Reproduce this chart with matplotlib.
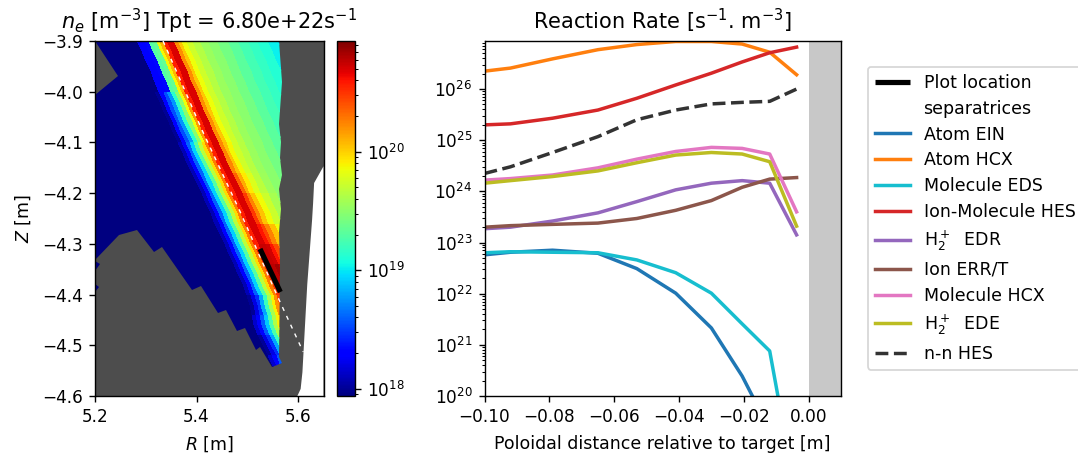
import numpy as np
import matplotlib
matplotlib.use("Agg")
import matplotlib.pyplot as plt
from matplotlib.colors import LogNorm
from matplotlib.path import Path
from matplotlib.patches import PathPatch, Polygon
from matplotlib.ticker import LogLocator, NullFormatter

W, H = 1078, 459
DPI = 125

# ---- right panel data (log10 of reaction rate) ----
dist = [-0.100, -0.092, -0.079, -0.065, -0.053, -0.041, -0.030, -0.0205, -0.012, -0.0037]
atom_ein = [22.76, 22.81, 22.85, 22.79, 22.49, 22.01, 21.33, 20.39, 19.34, 18.5]
atom_hcx = [26.35, 26.41, 26.59, 26.77, 26.87, 26.93, 26.93, 26.88, 26.72, 26.28]
mol_eds = [22.80, 22.82, 22.81, 22.80, 22.66, 22.41, 22.01, 21.41, 20.88, 18.0]
ion_mol_hes = [25.30, 25.32, 25.43, 25.59, 25.82, 26.08, 26.31, 26.53, 26.71, 26.82]
h2p_edr = [23.27, 23.30, 23.42, 23.58, 23.80, 24.03, 24.16, 24.21, 24.16, 23.15]
ion_err = [23.30, 23.33, 23.355, 23.38, 23.47, 23.63, 23.82, 24.08, 24.24, 24.27]
mol_hcx = [24.22, 24.25, 24.32, 24.46, 24.63, 24.78, 24.86, 24.84, 24.73, 23.60]
h2p_ede = [24.16, 24.21, 24.29, 24.40, 24.56, 24.71, 24.76, 24.73, 24.58, 23.32]
nn_hes = [24.35, 24.48, 24.76, 25.07, 25.40, 25.59, 25.71, 25.74, 25.76, 26.00]

# ---- left panel data ----
sep_R = [5.334, 5.368, 5.411, 5.486, 5.561, 5.610]
sep_Z = [-3.900, -3.977, -4.076, -4.237, -4.407, -4.513]
probe_R = [5.525, 5.565]
probe_Z = [-4.310, -4.395]

# centre line of the flux-tube bundle
tube_R = [5.334, 5.368, 5.411, 5.486, 5.559, 5.575, 5.602, 5.628]
tube_Z = [-3.900, -3.977, -4.076, -4.237, -4.401, -4.470, -4.523, -4.578]
# flux-tube edges, horizontal distance from the centre line [m]
tube_edges = [-0.45, -0.059, -0.051, -0.043, -0.036, -0.028, -0.020, -0.012, -0.006, 0.0,
              0.008, 0.022, 0.030, 0.037, 0.047, 0.059, 0.073, 0.089, 0.108, 0.128,
              0.148, 0.168, 0.187, 0.207, 0.227, 0.256]
z_edges = [-3.88, -3.90, -3.92, -3.94, -3.96, -3.98, -4.00, -4.02, -4.04, -4.06, -4.08, -4.10,
           -4.12, -4.14, -4.16, -4.18, -4.20, -4.22, -4.24, -4.26, -4.28, -4.30, -4.32, -4.34,
           -4.36, -4.38, -4.40, -4.42, -4.44, -4.46, -4.48, -4.50, -4.52, -4.54, -4.56]
# log10(ne) per flux tube, at stations along the leg
ne_top = [17.9, 17.9, 18.27, 18.27, 18.33, 19.29, 19.35, 19.88, 20.09, 20.57, 20.69, 20.21,
          20.03, 19.85, 19.73, 19.64, 19.55, 19.49, 19.41, 19.32, 19.23, 19.17, 19.11, 19.02, 18.90]
ne_bend = [17.9, 18.00, 18.27, 18.54, 18.75, 19.14, 19.49, 19.85, 20.18, 20.57, 20.69, 20.21,
           20.03, 19.85, 19.73, 19.64, 19.55, 19.49, 19.41, 19.32, 19.23, 19.17, 19.11, 19.02, 18.90]
ne_upper = [17.9, 18.09, 18.30, 18.60, 18.93, 19.29, 19.67, 19.97, 20.27, 20.57, 20.69, 20.24,
            20.05, 19.87, 19.74, 19.65, 19.55, 19.49, 19.41, 19.32, 19.23, 19.17, 19.11, 19.02, 18.90]
ne_low1 = [17.9, 18.09, 18.30, 18.60, 18.93, 19.29, 19.67, 19.97, 20.27, 20.57, 20.69, 20.35,
           20.12, 19.92, 19.78, 19.67, 19.56, 19.49, 19.41, 19.32, 19.23, 19.17, 19.11, 19.02, 18.90]
ne_low2 = [17.9, 18.09, 18.30, 18.60, 18.93, 19.29, 19.67, 19.97, 20.27, 20.57, 20.69, 20.48,
           20.25, 20.04, 19.86, 19.72, 19.60, 19.49, 19.41, 19.32, 19.23, 19.17, 19.11, 19.02, 18.90]
ne_low3 = [17.9, 18.09, 18.30, 18.60, 18.93, 19.29, 19.67, 19.97, 20.27, 20.57, 20.70, 20.60,
           20.45, 20.25, 20.05, 19.85, 19.70, 19.49, 19.41, 19.32, 19.23, 19.17, 19.11, 19.02, 18.90]
ne_low4 = [17.9, 18.09, 18.30, 18.60, 18.93, 19.29, 19.67, 19.97, 20.27, 20.57, 20.74, 20.72,
           20.60, 20.42, 20.20, 20.00, 19.75, 19.49, 19.41, 19.32, 19.23, 19.17, 19.11, 19.02, 18.90]
ne_target = [17.9, 18.09, 18.30, 18.60, 18.93, 19.29, 19.67, 19.97, 20.27, 20.51, 20.78, 20.84,
             20.78, 20.57, 20.33, 20.03, 19.70, 19.49, 19.41, 19.32, 19.23, 19.17, 19.11, 19.02, 18.90]
ne_tip_a = [17.9, 18.00, 18.20, 18.45, 18.80, 19.20, 19.60, 19.90, 20.20, 20.45, 20.70, 20.70,
            20.60, 20.40, 20.20, 20.00, 19.70, 19.49, 19.41, 19.32, 19.23, 19.17, 19.11, 19.02, 18.90]
ne_tip_b = [17.9, 18.15, 18.32, 18.58, 18.90, 19.25, 19.62, 19.90, 20.20, 20.45, 20.70, 20.70,
            20.60, 20.40, 20.20, 20.00, 19.70, 19.49, 19.41, 19.32, 19.23, 19.17, 19.11, 19.02, 18.90]
station_rows = [6, 5, 3, 2, 3, 2, 2, 3, 2, 2, 2, 2]

# plasma domain outline (R, Z), wall on the right and sawtooth floor on the lower left
domain_R = [5.2000, 5.2447, 5.2000, 5.2000, 5.2473, 5.2822, 5.3165, 5.3328, 5.3919, 5.4085, 5.4413,
            5.4578, 5.4787, 5.4953, 5.5170, 5.5250, 5.5480, 5.5680, 5.5630, 5.5640, 5.5632, 5.5660,
            5.5628, 5.5676, 5.5635, 5.5667, 5.5627, 5.5680, 5.5630]
domain_Z = [-3.9000, -3.9686, -4.0059, -4.3323, -4.2823, -4.2728, -4.3151, -4.3067, -4.3906, -4.3840,
            -4.4357, -4.4310, -4.4720, -4.4660, -4.5100, -4.5030, -4.5437, -4.5357, -4.5240, -4.3400,
            -4.2770, -4.2320, -4.1910, -4.1650, -4.1300, -4.1000, -4.0640, -3.9800, -3.9000]
speck1_R = [5.2, 5.2105, 5.2]
speck1_Z = [-4.3330, -4.3390, -4.3540]
speck2_R = [5.2, 5.2085, 5.2]
speck2_Z = [-4.3800, -4.3860, -4.3940]
gap_R = [5.65, 5.6315, 5.6295, 5.6275, 5.6180, 5.6085, 5.6050, 5.5985, 5.65]
gap_Z = [-4.1470, -4.1800, -4.2200, -4.2530, -4.3800, -4.5530, -4.5860, -4.6, -4.6]

labels = ["Atom EIN", "Atom HCX", "Molecule EDS", "Ion-Molecule HES", r"H$_2^+$  EDR",
          "Ion ERR/T", "Molecule HCX", r"H$_2^+$  EDE", "n-n HES"]
series = [atom_ein, atom_hcx, mol_eds, ion_mol_hes, h2p_edr, ion_err, mol_hcx, h2p_ede, nn_hes]
colors = ["tab:blue", "tab:orange", "tab:cyan", "tab:red", "tab:purple",
          "tab:brown", "tab:pink", "tab:olive", "#333333"]


def box(x0, y0, x1, y1):
    return [x0 / W, 1 - y1 / H, (x1 - x0) / W, (y1 - y0) / H]


plt.rcParams["xtick.labelsize"] = 9.7
plt.rcParams["ytick.labelsize"] = 9.7

fig = plt.figure(figsize=(W / DPI, H / DPI), dpi=DPI)
ax = fig.add_axes(box(95, 41, 323.5, 396))
cax = fig.add_axes(box(337, 41, 355, 396))
axr = fig.add_axes(box(484.5, 41, 841, 396))

# ---- left panel ----
ax.set_facecolor("#4d4d4d")
ax.add_patch(Polygon(np.column_stack([gap_R, gap_Z]), closed=True, fc="white", ec="none", zorder=1))

ze = np.array(z_edges)
tube = np.array(tube_edges)
centre = np.interp(-ze, -np.array(tube_Z), tube_R,
                   left=tube_R[0] + (tube_Z[0] - ze[0]) * (-0.44))
RR = centre[:, None] + tube[None, :]
ZZ = np.repeat(ze[:, None], len(tube), axis=1)
stations = [ne_top, ne_bend, ne_upper, ne_low1, ne_low2, ne_low3, ne_low4, ne_target,
            ne_tip_a, ne_tip_b, ne_tip_a, ne_tip_b]
ne = np.repeat(np.array(stations), station_rows, axis=0)
norm = LogNorm(vmin=8.7e17, vmax=8.6e20)
mesh = ax.pcolormesh(RR, ZZ, 10.0 ** ne, cmap="jet", norm=norm, shading="flat", zorder=2)

verts, codes = [], []
for pr, pz in [(domain_R, domain_Z), (speck1_R, speck1_Z), (speck2_R, speck2_Z)]:
    pts = list(zip(pr, pz))
    verts += pts + [pts[0]]
    codes += [Path.MOVETO] + [Path.LINETO] * (len(pts) - 1) + [Path.CLOSEPOLY]
clip = PathPatch(Path(verts, codes), transform=ax.transData, fc="none", ec="none")
ax.add_patch(clip)
mesh.set_clip_path(clip)

sep_line, = ax.plot(sep_R, sep_Z, color="white", lw=0.8, dashes=(3, 4), zorder=3, label="separatrices")
probe_line, = ax.plot(probe_R, probe_Z, color="k", lw=3, solid_capstyle="butt", zorder=4, label="Plot location")
ax.set_xlim(5.2, 5.65)
ax.set_ylim(-4.6, -3.9)
ax.set_xticks([5.2, 5.4, 5.6])
ax.set_yticks([-3.9, -4.0, -4.1, -4.2, -4.3, -4.4, -4.5, -4.6])
ax.set_xlabel(r"$R$ [m]", labelpad=5)
ax.set_ylabel(r"$Z$ [m]", labelpad=5)
ax.set_title(r"$n_e$ [m$^{-3}$] Tpt = 6.80e+22s$^{-1}$", fontsize=12, pad=7)

fig.colorbar(mesh, cax=cax)

# ---- right panel ----
handles = [probe_line, sep_line]
for vals, lab, col in zip(series, labels, colors):
    ls = "--" if lab == "n-n HES" else "-"
    ln, = axr.plot(dist, 10.0 ** np.array(vals), color=col, lw=2.0, ls=ls, label=lab)
    handles.append(ln)
axr.axvspan(0.0, 0.01, color="#c8c8c8", lw=0, zorder=0)
axr.set_yscale("log")
axr.set_xlim(-0.1, 0.01)
axr.set_ylim(1e20, 8.7e26)
axr.set_xticks([-0.10, -0.08, -0.06, -0.04, -0.02, 0.0])
axr.yaxis.set_major_locator(LogLocator(base=10, numticks=12))
axr.yaxis.set_minor_locator(LogLocator(base=10, subs=np.arange(2, 10), numticks=12))
axr.yaxis.set_minor_formatter(NullFormatter())
axr.set_xlabel("Poloidal distance relative to target [m]", labelpad=5)
axr.set_title(r"Reaction Rate [s$^{-1}$. m$^{-3}$]", fontsize=12, pad=7)

leg = fig.legend(handles=handles, loc="upper left", bbox_to_anchor=(868 / W, 1 - 67 / H),
                 borderaxespad=0, labelspacing=0.45)
fig.savefig("out.png", dpi=DPI)
